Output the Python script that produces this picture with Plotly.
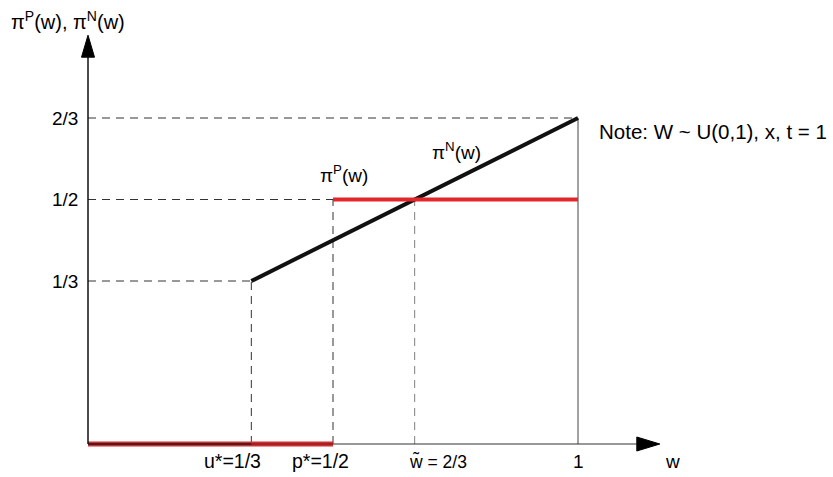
import plotly.graph_objects as go

# Key thresholds on the w axis
u_star = 1 / 3
p_star = 1 / 2
w_tilde = 2 / 3
w_max = 1.0

# pi^N(w): zero below u*, then rising linearly
piN_w_low = [0.0, u_star]
piN_low = [0.0, 0.0]
piN_w = [u_star, w_max]
piN = [1 / 3, 2 / 3]

# pi^P(w): step function, zero below p*, 1/2 above
piP_w_low = [0.0, p_star]
piP_low = [0.0, 0.0]
piP_w = [p_star, w_max]
piP = [1 / 2, 1 / 2]

y_ticks = [1 / 3, 1 / 2, 2 / 3]
y_tick_text = ["1/3", "1/2", "2/3"]

RED = "#e3262b"
BLACK = "#111111"
GRID = "#333333"
FONT = "Liberation Sans, Arial, sans-serif"

# Plot frame: axis extents and arrowhead geometry (data units)
x_rng = [-88 / 490, 745 / 490]
y_rng = [-33 / 489, 444 / 489]
px_x = 1 / 490
px_y = 1 / 489
x_axis_end = 1.12
x_arrow_tip = 1.167
y_axis_end = 0.791
y_arrow_tip = 0.836

fig = go.Figure()

# Dashed guides
dash = "8px,6px"
shapes = []
guides = [
    (0, 2 / 3, w_max, 2 / 3, GRID),
    (0, 1 / 2, p_star, 1 / 2, GRID),
    (0, 1 / 3, u_star, 1 / 3, GRID),
    (u_star, 0, u_star, 1 / 3, GRID),
    (p_star, 0, p_star, 1 / 2, GRID),
    (w_tilde, 0, w_tilde, 1 / 2, "#808080"),
]
for x0, y0, x1, y1, c in guides:
    shapes.append(dict(type="line", xref="x", yref="y", x0=x0, y0=y0, x1=x1, y1=y1,
                       line=dict(color=c, width=1, dash=dash), layer="below"))

# Solid vertical at w = 1
shapes.append(dict(type="line", xref="x", yref="y", x0=w_max, y0=0, x1=w_max, y1=2 / 3,
                   line=dict(color="#444444", width=1), layer="below"))

# Axes with arrowheads
shapes.append(dict(type="line", xref="x", yref="y", x0=0, y0=0, x1=x_axis_end, y1=0,
                   line=dict(color="#333333", width=1.2)))
shapes.append(dict(type="line", xref="x", yref="y", x0=0, y0=0, x1=0, y1=y_axis_end,
                   line=dict(color="#111111", width=1.5)))
shapes.append(dict(type="path", xref="x", yref="y",
                   path=f"M {x_axis_end} {7 * px_y} L {x_arrow_tip} 0 L {x_axis_end} {-7 * px_y} Z",
                   fillcolor="black", line=dict(color="black", width=1)))
shapes.append(dict(type="path", xref="x", yref="y",
                   path=f"M {-6.5 * px_x} {y_axis_end} L 0 {y_arrow_tip} L {6.5 * px_x} {y_axis_end} Z",
                   fillcolor="black", line=dict(color="black", width=1)))

# Curves
fig.add_trace(go.Scatter(x=piP_w_low, y=piP_low, mode="lines",
                         line=dict(color=RED, width=5), hoverinfo="skip", showlegend=False))
fig.add_trace(go.Scatter(x=piN_w_low, y=piN_low, mode="lines",
                         line=dict(color="#222222", width=2), hoverinfo="skip", showlegend=False))
fig.add_trace(go.Scatter(x=piN_w, y=piN, mode="lines",
                         line=dict(color=BLACK, width=4), hoverinfo="skip", showlegend=False))
fig.add_trace(go.Scatter(x=piP_w, y=piP, mode="lines",
                         line=dict(color=RED, width=4), hoverinfo="skip", showlegend=False))


def label(x, y, text, size=19, xanchor="center", xshift=0, yshift=0):
    return dict(x=x, y=y, xref="x", yref="y", text=text, showarrow=False,
                xanchor=xanchor, yanchor="middle", xshift=xshift, yshift=yshift,
                font=dict(family=FONT, size=size, color="black"))


ann = [label(0, v, t, xanchor="right", xshift=-8) for v, t in zip(y_ticks, y_tick_text)]
ann += [
    label(u_star, 0, "u*=1/3", size=19.5, xshift=-19, yshift=-17),
    label(p_star, 0, "p*=1/2", size=19.5, xshift=-13, yshift=-17),
    label(w_tilde, 0, "w\u0303 = 2/3", size=17.5, xanchor="left", xshift=-8, yshift=-17),
    label(w_max, 0, "1", yshift=-17),
    label(x_arrow_tip, 0, "w", xanchor="left", xshift=3, yshift=-17),
    label(-0.161, 0.866, "\u03c0<sup>P</sup>(w), \u03c0<sup>N</sup>(w)", size=20, xanchor="left"),
    label(0.522, 0.552, "\u03c0<sup>P</sup>(w)"),
    label(0.753, 0.599, "\u03c0<sup>N</sup>(w)"),
    label(w_max, 2 / 3, "Note: W ~ U(0,1), x, t = 1", size=20.5, xanchor="left",
          xshift=19, yshift=-13),
]

fig.update_layout(
    width=833, height=477, autosize=False,
    margin=dict(l=0, r=0, t=0, b=0),
    paper_bgcolor="white", plot_bgcolor="white",
    xaxis=dict(range=x_rng, visible=False, fixedrange=True),
    yaxis=dict(range=y_rng, visible=False, fixedrange=True),
    shapes=shapes, annotations=ann,
)

fig.write_html("out.html")
